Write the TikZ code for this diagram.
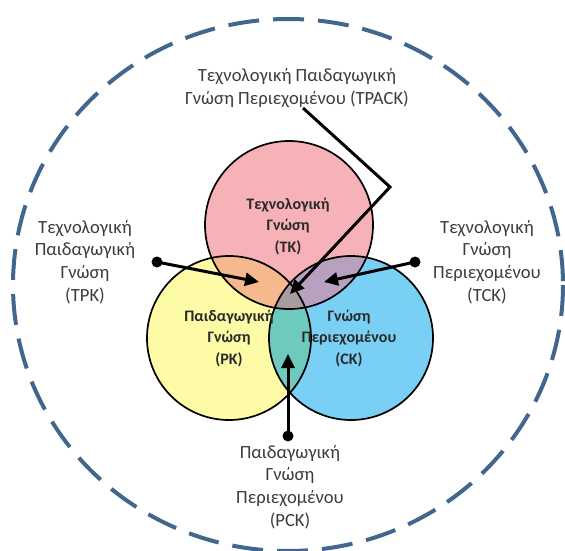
\documentclass[tikz,border=0pt]{standalone}
\usepackage{fontspec}
\setmainfont{Carlito}
\usetikzlibrary{arrows.meta}
\definecolor{tkfill}{HTML}{F7B2B7}
\definecolor{pkfill}{HTML}{FEFBA6}
\definecolor{ckfill}{HTML}{79CFF4}
\definecolor{tpkfill}{HTML}{F6B98E}
\definecolor{tckfill}{HTML}{B7A1BE}
\definecolor{pckfill}{HTML}{6DCABD}
\definecolor{tpackfill}{HTML}{A99C9E}
\definecolor{ringblue}{HTML}{41678F}
\definecolor{labelgray}{HTML}{3C3C3C}
\definecolor{innergray}{HTML}{2A2A2A}
\tikzset{
  ring/.style={draw=ringblue, line width=4pt, dash pattern=on 31pt off 14pt},
  rim/.style={draw=black, line width=1.7pt},
  label/.style={text=labelgray, align=center, font=\fontsize{18.6}{22.7}\selectfont, inner sep=0pt},
  inlabel/.style={text=innergray, align=center, font=\bfseries\fontsize{16}{21.5}\selectfont, inner sep=0pt},
  dot/.style={circle, fill=black, minimum size=11pt, inner sep=0pt},
  pointer/.style={draw=black, line width=3pt, -{Triangle[length=14pt,width=13pt]}},
}
\begin{document}
\begin{tikzpicture}[x=1pt,y=-1pt]
\useasboundingbox (0,0) rectangle (565,551);

% circle centres
\coordinate (ctk) at (289,225);
\coordinate (cpk) at (229,338);
\coordinate (cck) at (351,338);

% dashed outer boundary (context)
\draw[ring] (288,285) ellipse [x radius=275, y radius=266];

% base fills
\fill[tkfill] (ctk) circle[radius=84];
\fill[pkfill] (cpk) circle[radius=82];
\fill[ckfill] (cck) circle[radius=82];

% pairwise overlaps
\begin{scope}
  \clip (ctk) circle[radius=84];
  \fill[tpkfill] (cpk) circle[radius=82];
  \fill[tckfill] (cck) circle[radius=82];
\end{scope}
\begin{scope}
  \clip (cpk) circle[radius=82];
  \fill[pckfill] (cck) circle[radius=82];
\end{scope}
% triple overlap
\begin{scope}
  \clip (ctk) circle[radius=84];
  \clip (cpk) circle[radius=82];
  \fill[tpackfill] (cck) circle[radius=82];
\end{scope}

% outlines
\draw[rim] (ctk) circle[radius=84];
\draw[rim] (cpk) circle[radius=82];
\draw[rim] (cck) circle[radius=82];

% circle labels
\node[inlabel] (tk) at (288,226) {Τεχνολογική\\Γνώση\\(TK)};
\node[inlabel] (pk) at (229,338) {Παιδαγωγική\\Γνώση\\(PK)};
\node[inlabel] (ck) at (349,338) {Γνώση\\Περιεχομένου\\(CK)};

% outer labels
\node[label] (tpack) at (297,88) {Τεχνολογική Παιδαγωγική\\Γνώση Περιεχομένου (TPACK)};
\node[label] (tpk) at (85,262) {Τεχνολογική\\Παιδαγωγική\\Γνώση\\(TPK)};
\node[label] (tck) at (487,262) {Τεχνολογική\\Γνώση\\Περιεχομένου\\(TCK)};
\node[label] (pck) at (290,487) {Παιδαγωγική\\Γνώση\\Περιεχομένου\\(PCK)};

% pointers
\node[dot] (dtpk) at (157,262) {};
\node[dot] (dtck) at (415,262) {};
\node[dot] (dpck) at (288,436) {};
\coordinate (atpk) at (259,282);
\coordinate (atck) at (324,282);
\coordinate (apck) at (288,354);
\coordinate (stpack) at (303,108);
\coordinate (btpack) at (390,187);
\coordinate (atpack) at (290,294);

\draw[pointer] (dtpk.center) -- (atpk);
\draw[pointer] (dtck.center) -- (atck);
\draw[pointer] (dpck.center) -- (apck);
\draw[pointer] (stpack) -- (btpack) -- (atpack);
\end{tikzpicture}
\end{document}
